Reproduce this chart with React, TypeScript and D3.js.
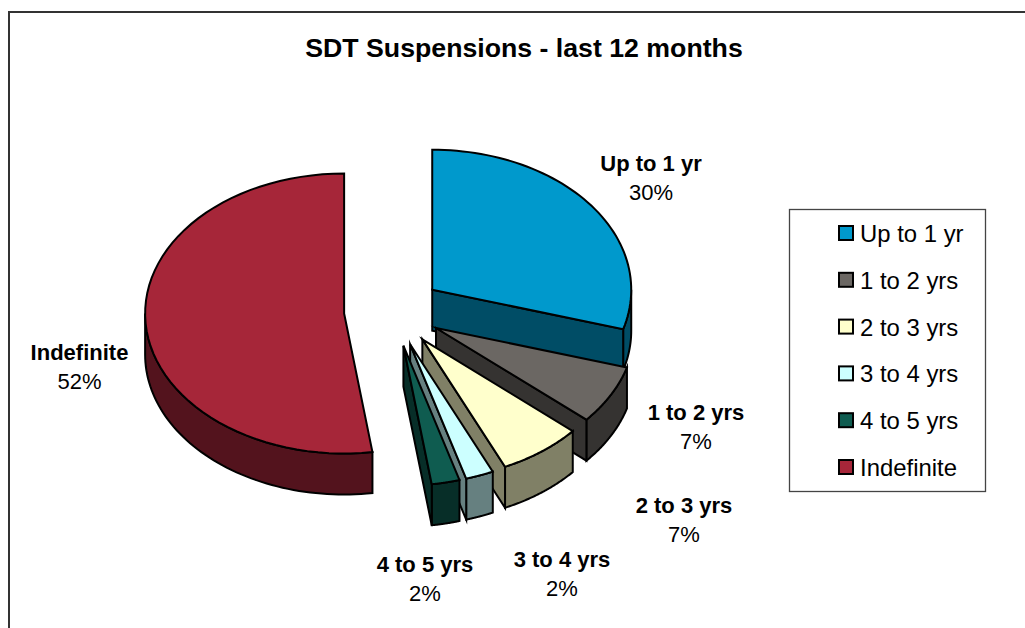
import React from 'react';
import * as d3 from 'd3';

const categories = ['Up to 1 yr', '1 to 2 yrs', '2 to 3 yrs', '3 to 4 yrs', '4 to 5 yrs', 'Indefinite'];
const counts = [13, 3, 3, 1, 1, 23];
const topColors = ['#0099cc', '#6b6763', '#ffffcc', '#ccffff', '#0f5c50', '#a62639'];
const sideColors = ['#004d66', '#353331', '#808066', '#668080', '#072e28', '#53131d'];

// label anchors, same order as categories
const labelX = [651, 696, 684, 562, 425, 79.5];
const labelY = [171, 420, 513, 567, 572, 360];

const W = 1025;
const H = 628;
const cx = 393;
const cy = 311;
const rx = 199;
const ry = 140;
const depth = 41;
const explodeX = 49;
const explodeY = 35.5;

const pie = d3.pie<number>().sort(null);
const arcs = pie(counts);
const total = d3.sum(counts);

// project an angle (clockwise from 12 o'clock) onto the tilted ellipse
const pt = (x0: number, y0: number, a: number): [number, number] => [
  x0 + Math.sin(a) * rx,
  y0 - Math.cos(a) * ry
];

const arcPoints = (x0: number, y0: number, a0: number, a1: number) =>
  d3.range(0, 61).map((i) => pt(x0, y0, a0 + ((a1 - a0) * i) / 60));

const line = d3.line();

export default function App() {
  return (
    <svg
      width={W}
      height={H}
      style={{ position: 'absolute', left: 0, top: 0, fontFamily: 'Liberation Sans' }}
    >
      <rect width={W} height={H} fill="#fff" />
      <path d="M9,628V12H1025" fill="none" stroke="#333" strokeWidth={2} />

      <text x={524} y={57} textAnchor="middle" fontSize={26.7} fontWeight="bold">
        SDT Suspensions - last 12 months
      </text>

      {[5, 0, 1, 2, 3, 4].map((i) => {
        const d = arcs[i];
        const mid = (d.startAngle + d.endAngle) / 2;
        const x0 = cx + explodeX * Math.sin(mid);
        const y0 = cy - explodeY * Math.cos(mid);
        const outerFrom = Math.max(d.startAngle, Math.PI / 2);
        const outerTo = Math.min(d.endAngle, (3 * Math.PI) / 2);
        const outer = arcPoints(x0, y0, outerFrom, outerTo);
        const lower = outer.map(([x, y]) => [x, y + depth] as [number, number]).reverse();
        const edge = pt(x0, y0, d.endAngle);
        const endWall = Math.sin(d.endAngle) > 1e-6;
        return (
          <g key={categories[i]} stroke="#000" strokeWidth={2} strokeLinejoin="miter" strokeMiterlimit={6}>
            {outerTo > outerFrom && (
              <path d={line([...outer, ...lower])! + 'Z'} fill={sideColors[i]} />
            )}
            {endWall && (
              <path
                d={line([[x0, y0], edge, [edge[0], edge[1] + depth], [x0, y0 + depth]])! + 'Z'}
                fill={sideColors[i]}
              />
            )}
            <path
              d={line([[x0, y0], ...arcPoints(x0, y0, d.startAngle, d.endAngle)])! + 'Z'}
              fill={topColors[i]}
            />
          </g>
        );
      })}

      {categories.map((c, i) => (
        <text key={c} x={labelX[i]} y={labelY[i]} textAnchor="middle" fontSize={22}>
          <tspan fontWeight="bold">{c}</tspan>
          <tspan x={labelX[i]} dy={29}>
            {d3.format('.0%')(counts[i] / total)}
          </tspan>
        </text>
      ))}

      <rect x={789.5} y={209.5} width={196} height={282} fill="#fff" stroke="#444" strokeWidth={1.3} />
      {categories.map((c, i) => (
        <g key={c} transform={`translate(0,${234 + i * 46.8})`}>
          <rect x={839} y={-8} width={14} height={14} fill={topColors[i]} stroke="#000" strokeWidth={2} />
          <text x={860} y={8} fontSize={23.9}>
            {c}
          </text>
        </g>
      ))}
    </svg>
  );
}
